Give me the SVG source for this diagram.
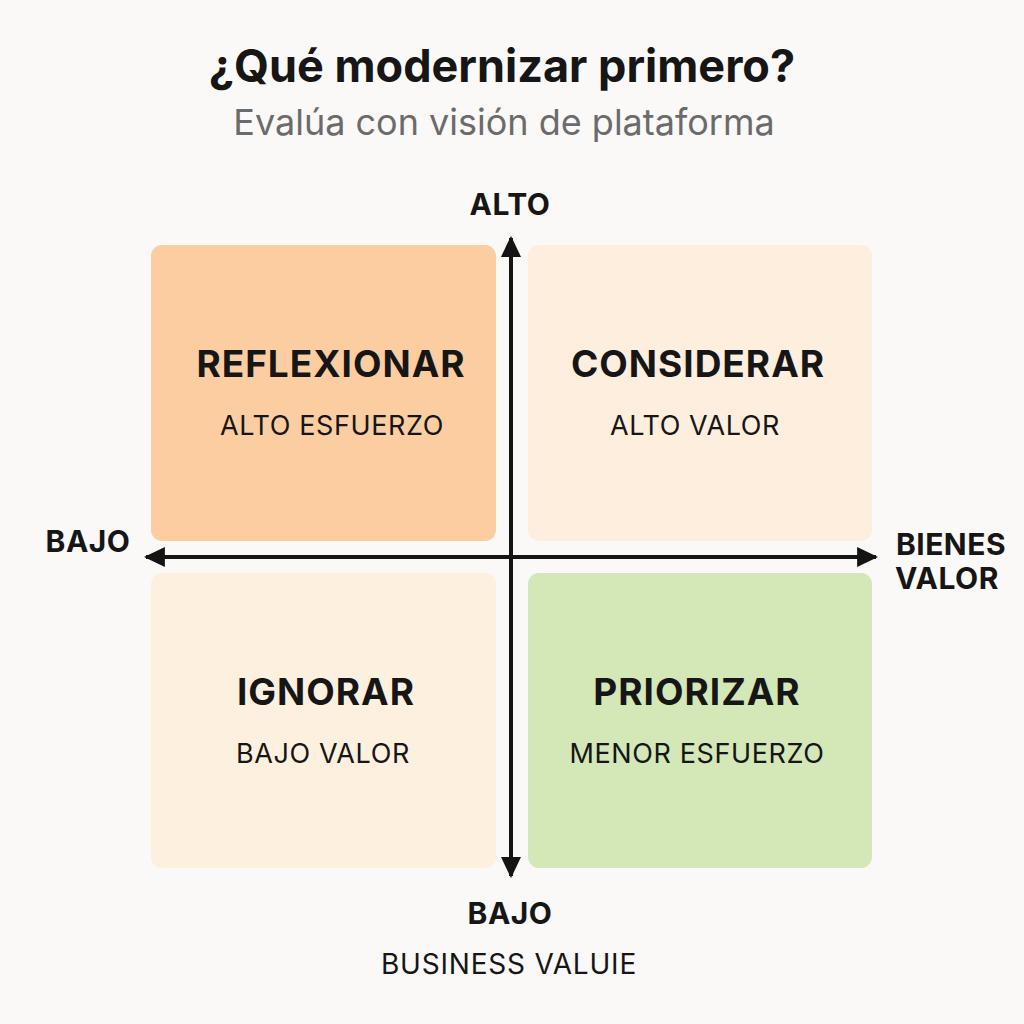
<svg xmlns="http://www.w3.org/2000/svg" width="1024" height="1024" viewBox="0 0 1024 1024">
<style>
.t{font-family:Inter,"Liberation Sans",sans-serif;fill:#161616;text-anchor:middle}
.h{font-weight:700;font-size:37px;letter-spacing:1px}
.s{font-weight:400;font-size:27px;letter-spacing:0.6px}
.ax{font-weight:700;font-size:30px;letter-spacing:0.5px}
.ax2{font-weight:400;font-size:28px;letter-spacing:0.8px}
.ln{stroke:#141414;stroke-width:4;fill:none}
</style>
<defs>
<marker id="ar" viewBox="0 0 10 10" refX="9" refY="5" markerWidth="21" markerHeight="20" orient="auto-start-reverse" markerUnits="userSpaceOnUse" preserveAspectRatio="none">
<path d="M0,0 L10,5 L0,10 z" fill="#141414"/>
</marker>
</defs>
<rect width="1024" height="1024" fill="#FAF9F7"/>
<text class="t" x="502" y="82" font-size="45" font-weight="700">¿Qué modernizar primero?</text>
<text class="t" x="504" y="135" font-size="36" style="fill:#6b6b6b">Evalúa con visión de plataforma</text>
<g id="q-reflexionar">
<rect x="151" y="245" width="345" height="296" rx="11" fill="#FDCDA2"/>
<text class="t h" x="331" y="377">REFLEXIONAR</text>
<text class="t s" x="332" y="435">ALTO ESFUERZO</text>
</g>
<g id="q-considerar">
<rect x="528" y="245" width="344" height="296" rx="11" fill="#FEEEDD"/>
<text class="t h" x="698" y="377">CONSIDERAR</text>
<text class="t s" x="695" y="435">ALTO VALOR</text>
</g>
<g id="q-ignorar">
<rect x="151" y="573" width="345" height="295" rx="11" fill="#FEF0DF"/>
<text class="t h" x="326" y="705">IGNORAR</text>
<text class="t s" x="323" y="763">BAJO VALOR</text>
</g>
<g id="q-priorizar">
<rect x="528" y="573" width="344" height="295" rx="11" fill="#D3E7B7"/>
<text class="t h" x="697" y="705">PRIORIZAR</text>
<text class="t s" x="697" y="763">MENOR ESFUERZO</text>
</g>
<g id="connectors">
<line class="ln" x1="511" y1="557" x2="511" y2="238" marker-end="url(#ar)"/>
<line class="ln" x1="511" y1="557" x2="511" y2="876" marker-end="url(#ar)"/>
<line class="ln" x1="511" y1="557" x2="146" y2="557" marker-end="url(#ar)"/>
<line class="ln" x1="511" y1="557" x2="876" y2="557" marker-end="url(#ar)"/>
</g>
<g id="labels">
<text class="t ax" x="510" y="215">ALTO</text>
<text class="t ax" x="88" y="552">BAJO</text>
<text class="t ax" x="951" y="555">BIENES</text>
<text class="t ax" x="947" y="589">VALOR</text>
<text class="t ax" x="510" y="924">BAJO</text>
<text class="t ax2" x="509" y="974">BUSINESS VALUIE</text>
</g>
</svg>
